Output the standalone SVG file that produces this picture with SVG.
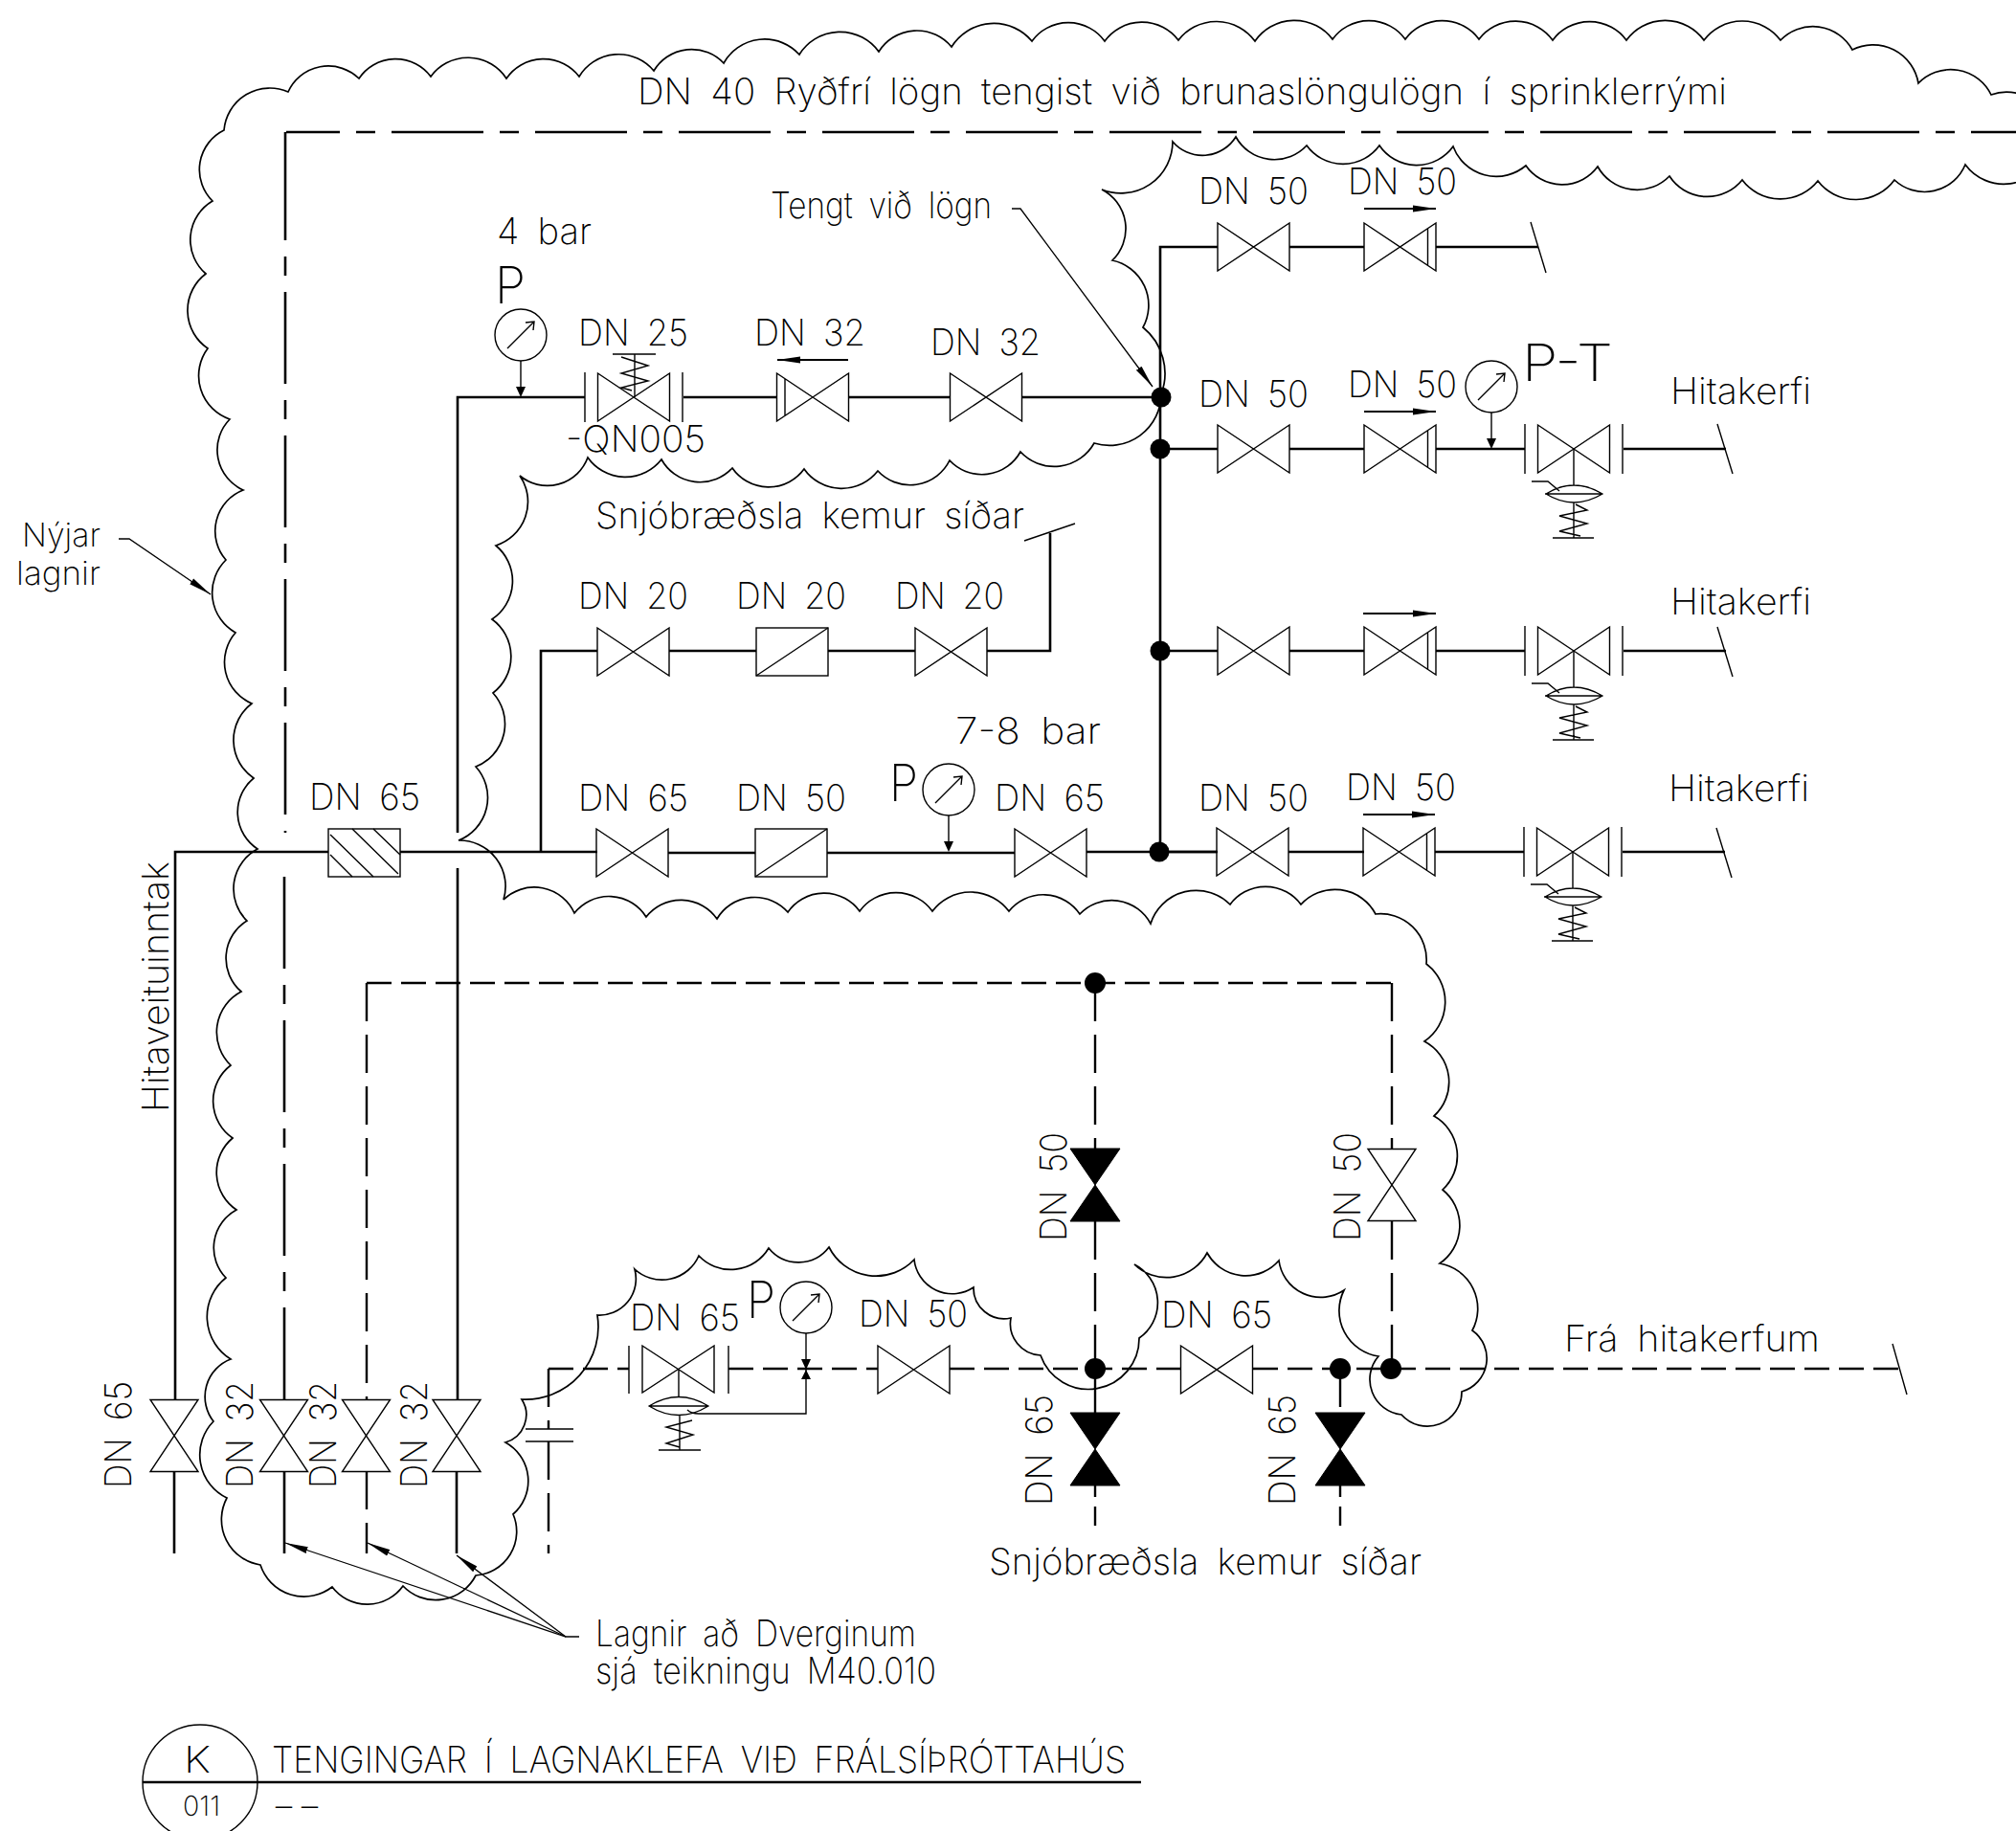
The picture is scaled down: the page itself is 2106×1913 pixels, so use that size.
<svg xmlns="http://www.w3.org/2000/svg" xmlns:xlink="http://www.w3.org/1999/xlink" width="2106" height="1913" viewBox="0 0 2106 1913">
<style>
text{font-family:"Inter","Liberation Sans",sans-serif;font-weight:200;font-size:38px;fill:#000;word-spacing:.22em}
.big{font-size:54px}
.nj{font-size:34px}
.sm{font-size:29px}
.cloud{fill:none;stroke:#000;stroke-width:1.7}
.pipe{fill:none;stroke:#000;stroke-width:2.6}
.thin{fill:none;stroke:#000;stroke-width:1.4}
.lead{fill:none;stroke:#000;stroke-width:1.3;marker-end:url(#ah)}
.flow{fill:none;stroke:#000;stroke-width:2;marker-end:url(#ah)}
.cl{fill:none;stroke:#000;stroke-width:2.6;stroke-dasharray:96 17 20 17}
.hd{fill:none;stroke:#000;stroke-width:2.4;stroke-dasharray:26 10}
.vd{fill:none;stroke:#000;stroke-width:2.4;stroke-dasharray:40 14}
.sd{fill:none;stroke:#000;stroke-width:2.4;stroke-dasharray:12 10 20}
.dot{fill:#000}
</style>
<defs>
<marker id="ah" markerUnits="userSpaceOnUse" markerWidth="24" markerHeight="10" refX="24" refY="5" orient="auto"><path d="M0 1.5L24 5L0 8.5Z" fill="#000"/></marker>
<path id="v" class="thin" d="M-37.5-25L37.5 25V-25L-37.5 25Z"/>
<path id="vr" class="thin" d="M-37.5-25L37.5 25V-25L-37.5 25ZM29-19.5V19.5"/>
<path id="vl" class="thin" d="M-37.5-25L37.5 25V-25L-37.5 25ZM-29-19.5V19.5"/>
<path id="vf" class="thin" d="M-37.5-25L37.5 25V-25L-37.5 25ZM-51-26V26M51-26V26"/>
<path id="vv" class="thin" d="M-25-37.5H25L-25 37.5H25Z"/>
<path id="vb" d="M-26-38H26L-26 38H26Z" fill="#000" stroke="#000"/>
<g id="act" class="thin"><path d="M0 0V38M0 56V93M-22 93H21M-30 47H30M-29 47Q0 29 30 47Q0 65-29 47ZM-44 34H-27L-15 44M2 58L14 64L-15 70L14 78L-15 86L7 91"/></g>
<g id="g"><circle r="27" class="thin"/><path class="thin" d="M-14 14L14-14M5-13L14-14L13-5"/></g>
<g id="gs"><use href="#g"/><path class="thin" d="M0 27V55"/><path d="M-5 54H5L0 65Z" fill="#000"/></g>
</defs>
<rect width="2106" height="1913" fill="#fff"/>
<g id="cloud"><path class="cloud" d="M269 887A46 46 0 0 1 265 813A48 48 0 0 1 263 735A47 47 0 0 1 246 661A48 48 0 0 1 236 585A46 46 0 0 1 254 512A46 46 0 0 1 240 438A48 48 0 0 1 217 364A48 48 0 0 1 215 286A47 47 0 0 1 222 210A46 46 0 0 1 234 136A48 48 0 0 1 301 96A46 46 0 0 1 375 82A46 46 0 0 1 450 80A48 48 0 0 1 529 82A47 47 0 0 1 605 80A48 48 0 0 1 683 74A46 46 0 0 1 756 66A49 49 0 0 1 835 57A50 50 0 0 1 918 54A47 47 0 0 1 994 49A52 52 0 0 1 1078 43A47 47 0 0 1 1154 43A48 48 0 0 1 1231 42A50 50 0 0 1 1311 43A50 50 0 0 1 1392 41A47 47 0 0 1 1468 41A48 48 0 0 1 1545 41A48 48 0 0 1 1622 42A48 48 0 0 1 1699 42A50 50 0 0 1 1780 42A50 50 0 0 1 1860 42A47 47 0 0 1 1935 52A48 48 0 0 1 2004 87A47 47 0 0 1 2080 99A47 47 0 0 1 2140 160A50 50 0 0 1 2053 172A46 46 0 0 1 1979 188A50 50 0 0 1 1899 189A50 50 0 0 1 1820 188A47 47 0 0 1 1744 184A47 47 0 0 1 1669 174A46 46 0 0 1 1594 173A48 48 0 0 1 1518 153A47 47 0 0 1 1441 152A47 47 0 0 1 1365 152A46 46 0 0 1 1291 143A41 41 0 0 1 1225 148A54 54 0 0 1 1151 198A46 46 0 0 1 1162 272A48 48 0 0 1 1194 342A62 62 0 0 1 1213 412A54 54 0 0 1 1143 463A48 48 0 0 1 1066 472A46 46 0 0 1 992 481A46 46 0 0 1 917 492A48 48 0 0 1 840 490A46 46 0 0 1 765 489A46 46 0 0 1 691 480A48 48 0 0 1 614 478A45 45 0 0 1 543 497A48 48 0 0 1 518 570A48 48 0 0 1 514 647A48 48 0 0 1 515 724A48 48 0 0 1 497 801A48 48 0 0 1 479 878A48 48 0 0 1 526 940A46 46 0 0 1 600 954A46 46 0 0 1 675 958A46 46 0 0 1 749 960A46 46 0 0 1 823 953A46 46 0 0 1 898 952A47 47 0 0 1 974 952A50 50 0 0 1 1054 952A46 46 0 0 1 1128 955A46 46 0 0 1 1202 965A50 50 0 0 1 1285 945A46 46 0 0 1 1359 945A48 48 0 0 1 1437 955A48 48 0 0 1 1490 1007A50 50 0 0 1 1488 1088A48 48 0 0 1 1498 1166A48 48 0 0 1 1507 1243A48 48 0 0 1 1504 1320A48 48 0 0 1 1538 1390A36 36 0 0 1 1527 1454A36 36 0 0 1 1464 1478A37 37 0 0 1 1440 1417A48 48 0 0 1 1404 1348A44 44 0 0 1 1336 1317A46 46 0 0 1 1261 1309A48 48 0 0 1 1185 1321A45 45 0 0 1 1190 1398A53 53 0 0 1 1087 1416A33 33 0 0 1 1056 1377A32 32 0 0 1 1017 1345A40 40 0 0 1 955 1316A55 55 0 0 1 866 1303A40 40 0 0 1 803 1304A46 46 0 0 1 730 1312A42 42 0 0 1 663 1326A38 38 0 0 1 624 1374A76 76 0 0 1 545 1462A30 30 0 0 1 528 1507A46 46 0 0 1 536 1582A46 46 0 0 1 497 1646A47 47 0 0 1 421 1657A46 46 0 0 1 347 1658A48 48 0 0 1 272 1635A48 48 0 0 1 237 1565A50 50 0 0 1 223 1485A42 42 0 0 1 241 1420A52 52 0 0 1 236 1335A45 45 0 0 1 247 1264A47 47 0 0 1 243 1189A47 47 0 0 1 241 1113A48 48 0 0 1 252 1036A46 46 0 0 1 258 962A47 47 0 0 1 269 887Z"/></g>
<g id="connectors">
<path class="cl" d="M299 138H2106" stroke-dashoffset="40"/>
<path class="pipe" d="M298 138V155"/>
<path class="cl" d="M298 155V870"/>
<path class="cl" d="M297 916V1462"/>
<path class="pipe" d="M297 1537V1623"/>
<path class="pipe" d="M183 1462V890H343M418 890H624M698 891H789M864 891H1060M1135 890H1272M182 1537V1623"/>
<path class="pipe" d="M565 891V680H624M699 680H790M865 680H956M1031 680H1097V557"/>
<path class="thin" d="M1070 565L1123 547"/>
<path class="pipe" d="M478 907V1462M477 1537V1623M478 870V415H611M714 415H811M886 415H992M1067 415H1213"/>
<path class="pipe" d="M1212 890V258H1272M1347 258H1425M1500 258H1607M1212 469H1272M1347 469H1425M1500 469H1593M1696 469H1803M1212 680H1272M1347 680H1425M1500 680H1593M1696 680H1803M1212 890H1271M1346 890H1425M1499 890H1592M1695 890H1802"/>
<path class="thin" d="M1599 232L1615 285M1794 443L1810 495M1794 655L1810 707M1793 865L1809 917M1977 1404L1992 1457"/>
<path class="hd" d="M383 1027H1454"/>
<path class="vd" d="M1454 1027V1200"/><path class="vd" d="M1454 1276V1430"/>
<path class="vd" d="M1144 1027V1200"/><path class="vd" d="M1144 1276V1476"/><path class="sd" d="M1144 1552V1594"/>
<path class="vd" d="M1400 1430V1476"/><path class="sd" d="M1400 1552V1594"/>
<path class="vd" d="M383 1027V1462"/><path class="vd" d="M383 1537V1623"/>
<path class="hd" d="M573 1430H657"/><path class="hd" d="M761 1430H917"/><path class="hd" d="M992 1430H1233"/><path class="hd" d="M1309 1430H1988"/>
<path class="vd" d="M573 1430V1493"/><path class="vd" d="M573 1506V1623"/>
<path class="thin" d="M549 1493H599M549 1506H599"/>
<path class="thin" d="M709 1431V1460M842 1431V1477H730Q722 1477 718 1473"/>
<path class="lead" d="M1057 218H1066L1204 404"/>
<path class="lead" d="M124 563H135L220 621"/>
<path class="lead" d="M605 1710H591L298 1612"/>
<path class="lead" d="M591 1710L384 1612"/>
<path class="lead" d="M591 1710L477 1625"/>
</g>
<g id="valves">
<g id="n-v4"><use href="#vf" x="662" y="415"/><path class="thin" d="M640 370H685M663 370V415M660 408L649 405L677 398L649 390L677 382L649 373"/></g>
<use id="n-v5" href="#vl" x="849" y="415"/><use id="n-v6" href="#v" x="1030" y="415"/>
<use id="n-r1a" href="#v" x="1309.500" y="258"/><use id="n-r1b" href="#vr" x="1462.500" y="258"/>
<use id="n-r2a" href="#v" x="1309.500" y="469"/><use id="n-r2b" href="#vr" x="1462.500" y="469"/>
<g id="n-r2c"><use href="#vf" x="1644" y="469"/><use href="#act" x="1644" y="469"/></g>
<use id="n-r3a" href="#v" x="1309.500" y="680"/><use id="n-r3b" href="#vr" x="1462.500" y="680"/>
<g id="n-r3c"><use href="#vf" x="1644" y="680"/><use href="#act" x="1644" y="680"/></g>
<use id="n-r4a" href="#v" x="1308.500" y="890"/><use id="n-r4b" href="#vr" x="1461.500" y="890"/>
<g id="n-r4c"><use href="#vf" x="1643" y="890"/><use href="#act" x="1643" y="890"/></g>
<use id="n-s1" href="#v" x="661.500" y="681"/>
<g id="n-s2"><rect class="thin" x="790" y="656" width="75" height="50"/><path class="thin" d="M790 706L865 656"/></g>
<use id="n-s3" href="#v" x="993.500" y="681"/>
<use id="n-m1" href="#v" x="660.500" y="891"/>
<g id="n-m2"><rect class="thin" x="789" y="866" width="75" height="50"/><path class="thin" d="M789 916L864 866"/></g>
<use id="n-m3" href="#v" x="1097.500" y="891"/>
<g id="n-box"><rect class="thin" x="343" y="866" width="75" height="50"/><path class="thin" d="M345 872L390 916M368 866L416 913M390 866L418 893M345 893L368 916"/></g>
<use id="n-l1" href="#vv" x="182" y="1500"/><use id="n-l2" href="#vv" x="296.500" y="1500"/><use id="n-l3" href="#vv" x="382.500" y="1500"/><use id="n-l4" href="#vv" x="477" y="1500"/>
<use id="n-b1" href="#vb" x="1144" y="1238"/><use id="n-b2" href="#vv" x="1454" y="1238"/>
<use id="n-b3" href="#vb" x="1144" y="1514"/><use id="n-b4" href="#vb" x="1400" y="1514"/>
<g id="n-c1"><path class="thin" d="M671 1406L746 1455V1406L671 1455ZM657 1406V1456M761 1406V1456M678 1469H740M678 1469Q709 1450 740 1469Q709 1488 678 1469ZM710 1478V1515M688 1515H732M723 1484L696 1491L724 1499L696 1508L710 1512"/></g>
<use id="n-c2" href="#v" x="954.500" y="1431"/><use id="n-c3" href="#v" x="1271" y="1431"/>
</g>
<g id="gauges">
<use id="n-g1" href="#gs" x="544" y="350"/><use id="n-g2" href="#gs" x="1558" y="404"/><use id="n-g3" href="#gs" x="991" y="825"/>
<g id="n-g4"><use href="#g" x="842" y="1366"/><path class="thin" d="M842 1393V1431"/><path d="M837 1420H847L842 1431ZM837 1441H847L842 1431Z" fill="#000"/></g>
</g>
<g id="nodes">
<ellipse id="n-j1" class="dot" cx="1213" cy="415" rx="10.500" ry="10.500"/><ellipse id="n-j2" class="dot" cx="1212" cy="469" rx="10.500" ry="10.500"/><ellipse id="n-j3" class="dot" cx="1212" cy="680" rx="10.500" ry="10.500"/><ellipse id="n-j4" class="dot" cx="1211" cy="890" rx="10.500" ry="10.500"/>
<circle id="n-j5" class="dot" cx="1144" cy="1027" r="11"/><circle id="n-j6" class="dot" cx="1144" cy="1430" r="11"/><circle id="n-j7" class="dot" cx="1400" cy="1430" r="11"/><circle id="n-j8" class="dot" cx="1453" cy="1430" r="11"/>
</g>
<g id="arrows">
<path class="flow" d="M886 376H812"/>
<path class="flow" d="M1425 218H1500"/><path class="flow" d="M1425 430H1500"/><path class="flow" d="M1424 641H1500"/><path class="flow" d="M1424 851H1499"/>
</g>
<g id="labels">
<text x="666" y="109" textLength="1138" lengthAdjust="spacingAndGlyphs">DN 40 Ryðfrí lögn tengist við brunaslöngulögn í sprinklerrými</text>
<text x="1252" y="213" textLength="115" lengthAdjust="spacingAndGlyphs">DN 50</text>
<text x="1408" y="203" textLength="114" lengthAdjust="spacingAndGlyphs">DN 50</text>
<text x="805" y="228" textLength="231" lengthAdjust="spacingAndGlyphs">Tengt við lögn</text>
<text x="519" y="255" textLength="99" lengthAdjust="spacingAndGlyphs">4 bar</text>
<text class="big" x="517" y="317" textLength="32" lengthAdjust="spacingAndGlyphs">P</text>
<text x="604" y="361" textLength="115" lengthAdjust="spacingAndGlyphs">DN 25</text>
<text x="788" y="361" textLength="116" lengthAdjust="spacingAndGlyphs">DN 32</text>
<text x="972" y="371" textLength="115" lengthAdjust="spacingAndGlyphs">DN 32</text>
<text x="591" y="472" textLength="146" lengthAdjust="spacingAndGlyphs">-QN005</text>
<text x="1252" y="425" textLength="115" lengthAdjust="spacingAndGlyphs">DN 50</text>
<text x="1408" y="415" textLength="114" lengthAdjust="spacingAndGlyphs">DN 50</text>
<text class="big" x="1590" y="398" textLength="95" lengthAdjust="spacingAndGlyphs">P-T</text>
<text x="1745" y="422" textLength="147" lengthAdjust="spacingAndGlyphs">Hitakerfi</text>
<text class="nj" x="23" y="571" textLength="82" lengthAdjust="spacingAndGlyphs">Nýjar</text>
<text class="nj" x="17" y="611" textLength="88" lengthAdjust="spacingAndGlyphs">lagnir</text>
<text x="622" y="552" textLength="448" lengthAdjust="spacingAndGlyphs">Snjóbræðsla kemur síðar</text>
<text x="604" y="636" textLength="115" lengthAdjust="spacingAndGlyphs">DN 20</text>
<text x="769" y="636" textLength="115" lengthAdjust="spacingAndGlyphs">DN 20</text>
<text x="935" y="636" textLength="114" lengthAdjust="spacingAndGlyphs">DN 20</text>
<text x="1745" y="642" textLength="147" lengthAdjust="spacingAndGlyphs">Hitakerfi</text>
<text x="998" y="777" textLength="152" lengthAdjust="spacingAndGlyphs">7-8 bar</text>
<text class="big" x="929" y="837" textLength="30" lengthAdjust="spacingAndGlyphs">P</text>
<text x="604" y="847" textLength="115" lengthAdjust="spacingAndGlyphs">DN 65</text>
<text x="769" y="847" textLength="115" lengthAdjust="spacingAndGlyphs">DN 50</text>
<text x="1039" y="847" textLength="115" lengthAdjust="spacingAndGlyphs">DN 65</text>
<text x="323" y="846" textLength="116" lengthAdjust="spacingAndGlyphs">DN 65</text>
<text x="1252" y="847" textLength="115" lengthAdjust="spacingAndGlyphs">DN 50</text>
<text x="1406" y="836" textLength="115" lengthAdjust="spacingAndGlyphs">DN 50</text>
<text x="1743" y="837" textLength="147" lengthAdjust="spacingAndGlyphs">Hitakerfi</text>
<text transform="translate(176 1162) rotate(-90)" textLength="262" lengthAdjust="spacingAndGlyphs">Hitaveituinntak</text>
<text transform="translate(137 1555) rotate(-90)" textLength="112" lengthAdjust="spacingAndGlyphs">DN 65</text>
<text transform="translate(264 1555) rotate(-90)" textLength="112" lengthAdjust="spacingAndGlyphs">DN 32</text>
<text transform="translate(351 1555) rotate(-90)" textLength="112" lengthAdjust="spacingAndGlyphs">DN 32</text>
<text transform="translate(446 1555) rotate(-90)" textLength="112" lengthAdjust="spacingAndGlyphs">DN 32</text>
<text transform="translate(1114 1297) rotate(-90)" textLength="114" lengthAdjust="spacingAndGlyphs">DN 50</text>
<text transform="translate(1421 1297) rotate(-90)" textLength="114" lengthAdjust="spacingAndGlyphs">DN 50</text>
<text transform="translate(1099 1573) rotate(-90)" textLength="116" lengthAdjust="spacingAndGlyphs">DN 65</text>
<text transform="translate(1353 1573) rotate(-90)" textLength="116" lengthAdjust="spacingAndGlyphs">DN 65</text>
<text x="658" y="1390" textLength="115" lengthAdjust="spacingAndGlyphs">DN 65</text>
<text class="big" x="780" y="1377" textLength="30" lengthAdjust="spacingAndGlyphs">P</text>
<text x="897" y="1386" textLength="114" lengthAdjust="spacingAndGlyphs">DN 50</text>
<text x="1213" y="1387" textLength="116" lengthAdjust="spacingAndGlyphs">DN 65</text>
<text x="1634" y="1412" textLength="267" lengthAdjust="spacingAndGlyphs">Frá hitakerfum</text>
<text x="1033" y="1645" textLength="452" lengthAdjust="spacingAndGlyphs">Snjóbræðsla kemur síðar</text>
<text x="622" y="1720" textLength="335" lengthAdjust="spacingAndGlyphs">Lagnir að Dverginum</text>
<text x="622" y="1759" textLength="356" lengthAdjust="spacingAndGlyphs">sjá teikningu M40.010</text>
</g>
<g id="title">
<circle class="thin" cx="209" cy="1862" r="60"/>
<path class="pipe" d="M149 1862H1192"/>
<text x="192" y="1852" textLength="28" lengthAdjust="spacingAndGlyphs">K</text>
<text class="sm" x="191" y="1897" textLength="39" lengthAdjust="spacingAndGlyphs">011</text>
<text x="284" y="1852" textLength="892" lengthAdjust="spacingAndGlyphs">TENGINGAR Í LAGNAKLEFA VIÐ FRÁLSÍÞRÓTTAHÚS</text>
<text x="283" y="1900" textLength="54" lengthAdjust="spacingAndGlyphs">--</text>
</g>
</svg>
